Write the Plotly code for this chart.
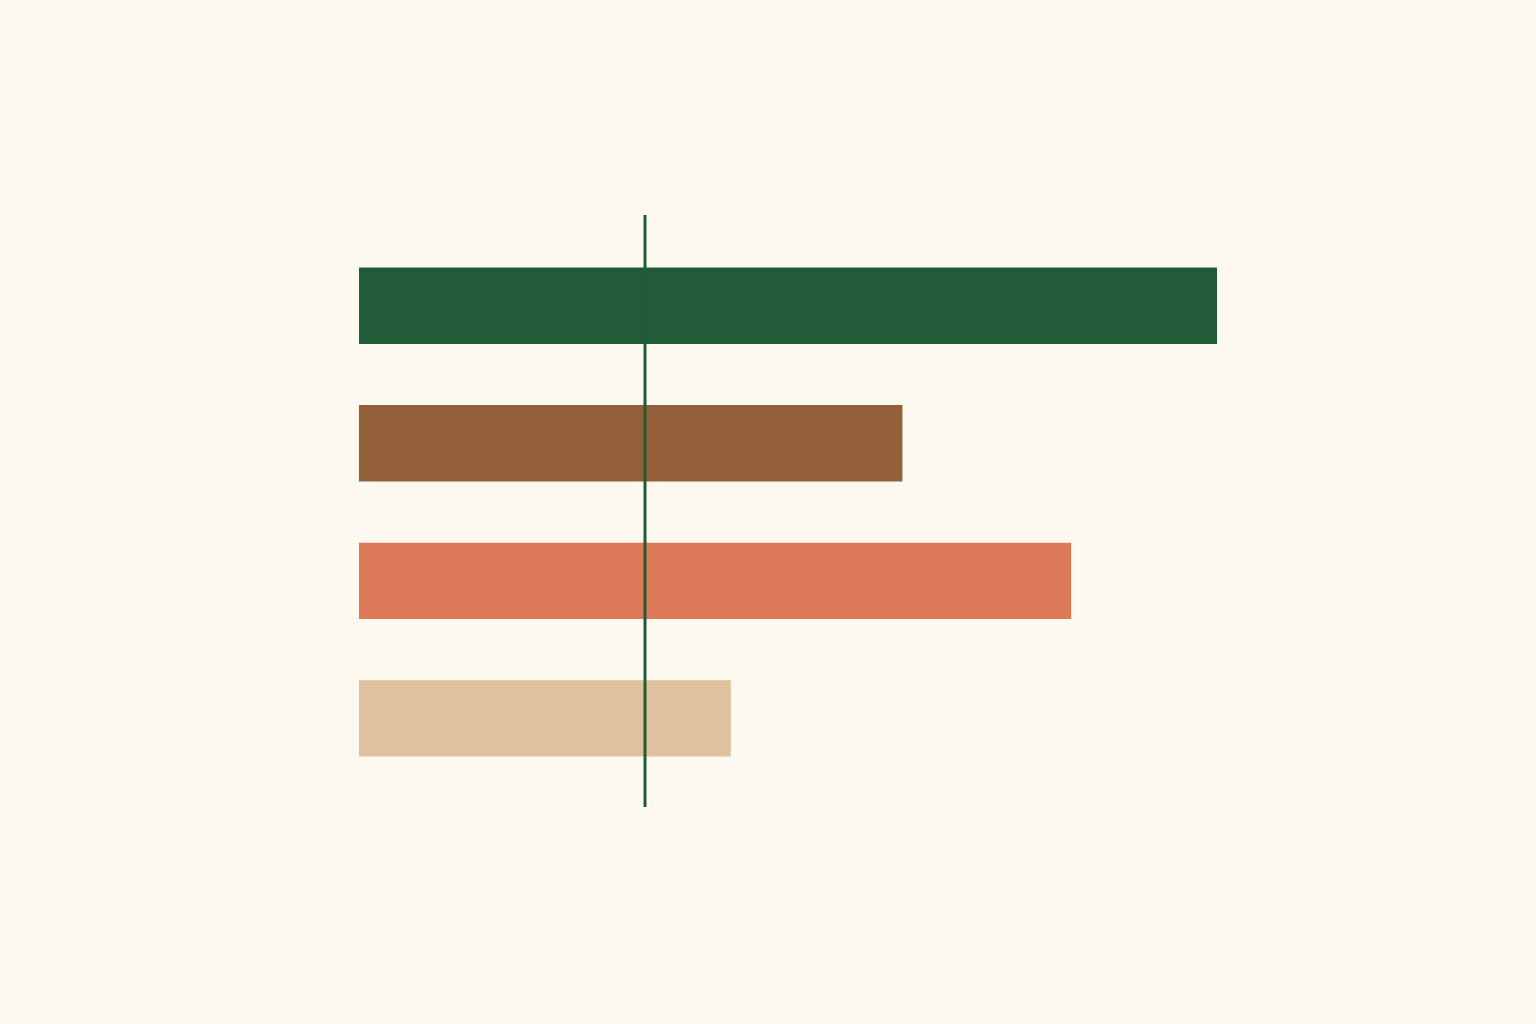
import plotly.graph_objects as go

# bar categories (no labels shown in the chart) and their values
categories = ["A", "B", "C", "D"]
values = [60, 38, 49.8, 26]
bar_colors = ["#225b38", "#935f38", "#dc7958", "#dfc19d"]

# reference value marked by the vertical line
reference = 20

fig = go.Figure()
fig.add_trace(go.Bar(
    y=categories,
    x=values,
    orientation="h",
    width=0.555,
    marker=dict(color=bar_colors, line=dict(width=0)),
    hoverinfo="x",
))

fig.add_shape(
    type="line", xref="x", yref="paper",
    x0=reference, x1=reference, y0=0, y1=1,
    line=dict(color="#1f5c35", width=3),
    layer="above",
)

fig.update_layout(
    width=1536, height=1024,
    paper_bgcolor="#fdf9f0",
    plot_bgcolor="#fdf9f0",
    margin=dict(l=359, r=176, t=215, b=217),
    showlegend=False,
    xaxis=dict(range=[0, 70], visible=False, fixedrange=True),
    yaxis=dict(range=[3.645, -0.66], visible=False, fixedrange=True),
)

# drop the browser's default body margin so the figure fills the window
page_css = ("document.body.style.margin='0';"
            "document.body.style.background='#fdf9f0';"
            "document.body.style.overflow='hidden';")

fig.write_html("out.html", post_script=page_css, config={"displayModeBar": False})
